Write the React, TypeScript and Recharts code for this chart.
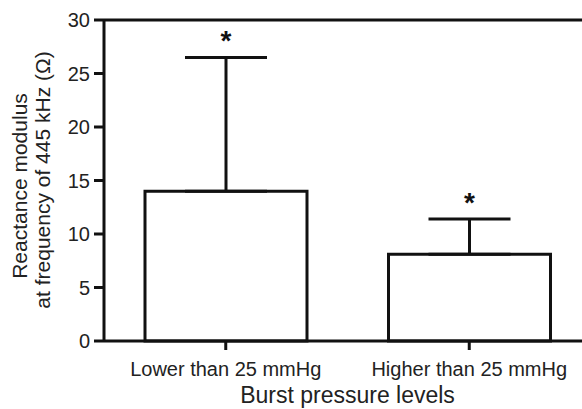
import React from "react";
import {
  BarChart,
  Bar,
  XAxis,
  YAxis,
  ErrorBar,
  LabelList,
  ReferenceLine,
} from "recharts";

const groups = ["Lower than 25 mmHg", "Higher than 25 mmHg"];
const means = [14.0, 8.1];
const upperErrors = [12.5, 3.3];
const yTicks = [0, 5, 10, 15, 20, 25, 30];
const stars = ["*", "*"];

const data = groups.map((group, i) => ({
  group,
  mean: means[i],
  err: [0, upperErrors[i]],
}));

const font = '"Liberation Sans", Arial, sans-serif';
const ink = "#111";

// asterisk above each error bar, placed from the bar's own scale
const renderStar = (props: any) => {
  const { x, y, width, height, value } = props;
  let i = props.index;
  if (i == null) i = means.indexOf(value);
  const base = y + height;
  const perUnit = height / means[i];
  const topPx = base - (means[i] + upperErrors[i]) * perUnit;
  const fs = 28;
  return (
    <text
      x={x + width / 2}
      y={topPx - 23 + 0.57 * fs}
      textAnchor="middle"
      fontSize={fs}
      fontWeight="bold"
      fontFamily={font}
      fill={ink}
    >
      {stars[i]}
    </text>
  );
};

const YLabel = () => (
  <g fontFamily={font} fontSize={21} fill="#222" textAnchor="middle">
    <text transform="rotate(-90)" x={-186} y={27}>
      Reactance modulus
    </text>
    <text transform="rotate(-90)" x={-180} y={50}>
      at frequency of 445 kHz (Ω)
    </text>
  </g>
);

export default function App() {
  return (
    <div
      style={{
        position: "absolute",
        left: 0,
        top: 0,
        width: 582,
        height: 409,
        overflow: "hidden",
        background: "#fff",
      }}
    >
      <BarChart
        width={600}
        height={409}
        data={data}
        margin={{ top: 20, right: 9, left: 0, bottom: 0 }}
        barSize={162}
      >
        <XAxis
          dataKey="group"
          height={68}
          axisLine={{ stroke: ink, strokeWidth: 3 }}
          tickLine={{ stroke: ink, strokeWidth: 3 }}
          tickSize={9}
          tickMargin={12}
          tick={{ fill: "#222", fontSize: 20, fontFamily: font }}
          label={{
            value: "Burst pressure levels",
            position: "insideBottom",
            offset: 6,
            fill: "#222",
            fontSize: 23,
            fontFamily: font,
          }}
        />
        <YAxis
          width={104}
          domain={[0, 30]}
          ticks={yTicks}
          interval={0}
          axisLine={{ stroke: ink, strokeWidth: 3 }}
          tickLine={{ stroke: ink, strokeWidth: 3 }}
          tickSize={10}
          tickMargin={4}
          tick={{ fill: "#222", fontSize: 20, fontFamily: font }}
        />
        <ReferenceLine y={30} stroke={ink} strokeWidth={3} />
        <Bar
          dataKey="mean"
          fill="#fff"
          stroke={ink}
          strokeWidth={3}
          isAnimationActive={false}
        >
          <ErrorBar
            dataKey="err"
            direction="y"
            width={41}
            stroke={ink}
            strokeWidth={3}
          />
          <LabelList dataKey="mean" content={renderStar} />
        </Bar>
        <YLabel />
      </BarChart>
    </div>
  );
}
